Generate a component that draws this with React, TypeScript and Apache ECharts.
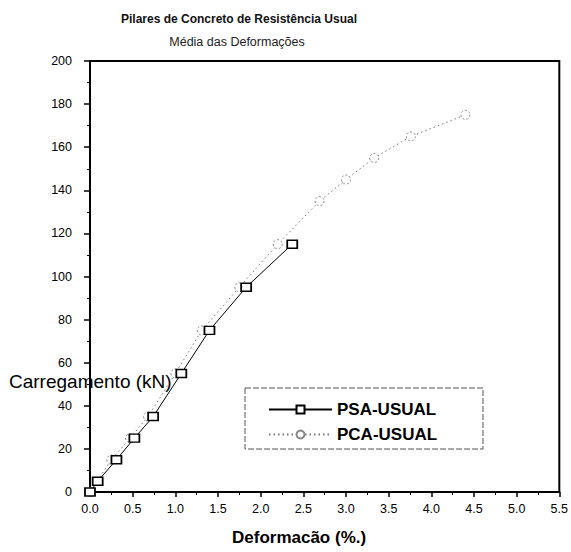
import React, { useEffect, useRef } from "react";
import * as echarts from "echarts";

// Deformação média (%) × carregamento (kN)
const psaStrain = [0, 0.09, 0.31, 0.52, 0.74, 1.07, 1.4, 1.83, 2.37];
const psaLoad = [0, 5, 15, 25, 35, 55, 75, 95, 115];

const pcaStrain = [0, 0.25, 0.47, 0.68, 1.0, 1.31, 1.75, 2.2, 2.69, 3.0, 3.33, 3.76, 4.4];
const pcaLoad = [0, 15, 25, 35, 55, 75, 95, 115, 135, 145, 155, 165, 175];

const seriesNames = ["PSA-USUAL", "PCA-USUAL"];
const titleText = "Pilares de Concreto de Resistência Usual";
const subtitleText = "Média das Deformações";
const xAxisName = "Deformacão (%.)";
const yAxisName = "Carregamento (kN)";

const FONT = "'Liberation Sans', Arial, Helvetica, sans-serif";

const pairs = (xs: number[], ys: number[]) => xs.map((x, i) => [x, ys[i]]);

export default function App() {
  const ref = useRef<HTMLDivElement>(null);

  useEffect(() => {
    document.body.style.margin = "0";
    if (!ref.current) return;
    const chart = echarts.init(ref.current, null, { renderer: "svg" });
    chart.setOption({
      animation: false,
      backgroundColor: "#ffffff",
      textStyle: { fontFamily: FONT },
      title: [
        {
          text: titleText,
          left: 234,
          top: 8,
          textAlign: "center",
          textStyle: { fontFamily: FONT, fontSize: 12, fontWeight: "bold", color: "#111" },
        },
        {
          text: subtitleText,
          left: 232,
          top: 30,
          textAlign: "center",
          textStyle: { fontFamily: FONT, fontSize: 12.5, fontWeight: "normal", color: "#222" },
        },
      ],
      grid: {
        left: 90,
        right: 10,
        top: 61,
        bottom: 60,
        show: true,
        borderColor: "#000",
        borderWidth: 2,
      },
      legend: {
        orient: "vertical",
        left: 263,
        top: 396,
        itemWidth: 63,
        itemHeight: 10,
        itemGap: 8,
        data: seriesNames,
        textStyle: { fontFamily: FONT, fontSize: 17, fontWeight: "bold", color: "#000", lineHeight: 17 },
      },
      graphic: [
        {
          type: "rect",
          shape: { x: 245, y: 388, width: 238, height: 61 },
          style: { fill: "none", stroke: "#555", lineWidth: 1, lineDash: [6, 2] },
          z: 10,
        },
        {
          type: "text",
          left: 9,
          top: 372,
          style: { text: yAxisName, fontFamily: FONT, fontSize: 19, fill: "#000" },
          z: 20,
        },
        {
          type: "text",
          left: 232,
          top: 529,
          style: { text: xAxisName, fontFamily: FONT, fontSize: 17, fontWeight: "bold", fill: "#000" },
          z: 20,
        },
      ],
      xAxis: {
        type: "value",
        min: 0,
        max: 5.5,
        interval: 0.5,
        axisLine: { lineStyle: { color: "#000", width: 2 } },
        axisTick: { show: true, length: 5, lineStyle: { color: "#000", width: 1.5 } },
        minorTick: { show: true, splitNumber: 2, length: 3, lineStyle: { color: "#000" } },
        axisLabel: {
          fontFamily: FONT,
          fontSize: 12.5,
          color: "#000",
          margin: 10,
          formatter: (v: number) => v.toFixed(1),
        },
        splitLine: { show: false },
      },
      yAxis: {
        type: "value",
        min: 0,
        max: 200,
        interval: 20,
        axisLine: { lineStyle: { color: "#000", width: 2 } },
        axisTick: { show: true, length: 6, lineStyle: { color: "#000", width: 1.5 } },
        minorTick: { show: true, splitNumber: 2, length: 3, lineStyle: { color: "#000" } },
        axisLabel: { fontFamily: FONT, fontSize: 12.5, color: "#000", margin: 18 },
        splitLine: { show: false },
      },
      series: [
        {
          name: seriesNames[0],
          type: "line",
          data: pairs(psaStrain, psaLoad),
          symbol: "rect",
          symbolSize: [10, 8],
          showAllSymbol: true,
          lineStyle: { color: "#000", width: 1 },
          itemStyle: { color: "#fff", borderColor: "#000", borderWidth: 1.6 },
          z: 3,
        },
        {
          name: seriesNames[1],
          type: "line",
          data: pairs(pcaStrain, pcaLoad),
          symbol: "circle",
          symbolSize: 9,
          showAllSymbol: true,
          lineStyle: { color: "#777", width: 1, type: [1.5, 3] },
          itemStyle: { color: "#fff", borderColor: "#888", borderWidth: 1, borderType: [2, 2] },
          z: 2,
        },
      ],
    });
    return () => chart.dispose();
  }, []);

  return <div ref={ref} style={{ width: 571, height: 552 }} />;
}
